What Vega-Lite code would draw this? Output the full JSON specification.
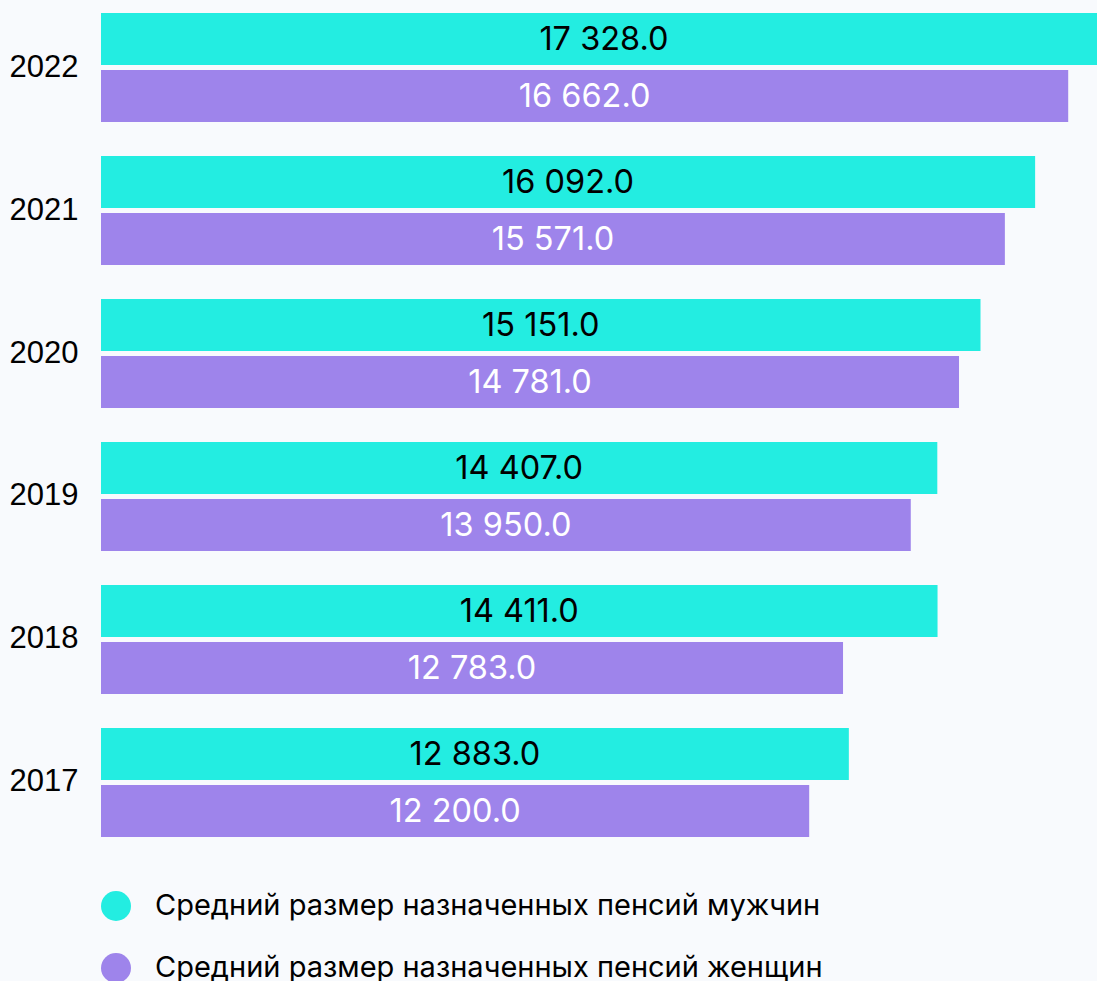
{
  "$schema": "https://vega.github.io/schema/vega-lite/v6.json",
  "autosize": "none",
  "width": 996,
  "height": 824,
  "padding": {"left": 101, "top": 13, "right": 0, "bottom": 144},
  "background": "#f8fafd",
  "config": {
    "view": {"stroke": null},
    "locale": {"number": {"decimal": ".", "thousands": " ", "grouping": [3], "currency": ["", ""]}}
  },
  "data": {
    "values": [
      {"year": "2022", "series": "Средний размер назначенных пенсий мужчин", "value": 17328},
      {"year": "2022", "series": "Средний размер назначенных пенсий женщин", "value": 16662},
      {"year": "2021", "series": "Средний размер назначенных пенсий мужчин", "value": 16092},
      {"year": "2021", "series": "Средний размер назначенных пенсий женщин", "value": 15571},
      {"year": "2020", "series": "Средний размер назначенных пенсий мужчин", "value": 15151},
      {"year": "2020", "series": "Средний размер назначенных пенсий женщин", "value": 14781},
      {"year": "2019", "series": "Средний размер назначенных пенсий мужчин", "value": 14407},
      {"year": "2019", "series": "Средний размер назначенных пенсий женщин", "value": 13950},
      {"year": "2018", "series": "Средний размер назначенных пенсий мужчин", "value": 14411},
      {"year": "2018", "series": "Средний размер назначенных пенсий женщин", "value": 12783},
      {"year": "2017", "series": "Средний размер назначенных пенсий мужчин", "value": 12883},
      {"year": "2017", "series": "Средний размер назначенных пенсий женщин", "value": 12200}
    ]
  },
  "encoding": {
    "y": {
      "field": "year", "type": "nominal", "sort": "descending",
      "scale": {"paddingInner": 0.23776, "paddingOuter": 0},
      "axis": {"title": null, "domain": false, "ticks": false, "labelFontSize": 31, "labelFont": "Liberation Sans", "labelColor": "#000000", "labelPadding": 23}
    },
    "yOffset": {
      "field": "series", "type": "nominal",
      "sort": ["Средний размер назначенных пенсий мужчин", "Средний размер назначенных пенсий женщин"],
      "scale": {"paddingInner": 0.0877, "paddingOuter": 0}
    }
  },
  "layer": [
    {
      "mark": {"type": "bar", "clip": true},
      "encoding": {
        "x": {"field": "value", "type": "quantitative", "scale": {"domain": [0, 17158], "nice": false, "zero": true}, "axis": null},
        "color": {
          "field": "series", "type": "nominal",
          "sort": ["Средний размер назначенных пенсий мужчин", "Средний размер назначенных пенсий женщин"],
          "scale": {"range": ["#23ede1", "#9e84eb"]},
          "legend": {
            "orient": "none", "legendX": 0, "legendY": 878, "title": null, "padding": 0,
            "symbolType": "circle", "symbolSize": 900, "symbolStrokeWidth": 0, "symbolOpacity": 1,
            "labelFont": "Inter", "labelFontSize": 29, "labelColor": "#000000", "labelOffset": 24,
            "rowPadding": 32, "labelLimit": 950
          }
        }
      }
    },
    {
      "mark": {"type": "text", "font": "Inter", "fontSize": 32.5, "baseline": "middle", "align": "center", "dy": 1},
      "encoding": {
        "x": {"field": "value", "type": "quantitative", "scale": {"domain": [0, 34316], "nice": false, "zero": true}, "axis": null},
        "text": {"field": "value", "type": "quantitative", "format": ",.1f"},
        "color": {
          "field": "series", "type": "nominal",
          "sort": ["Средний размер назначенных пенсий мужчин", "Средний размер назначенных пенсий женщин"],
          "scale": {"range": ["#000000", "#ffffff"]},
          "legend": null
        }
      }
    }
  ],
  "resolve": {"scale": {"x": "independent", "color": "independent"}}
}
